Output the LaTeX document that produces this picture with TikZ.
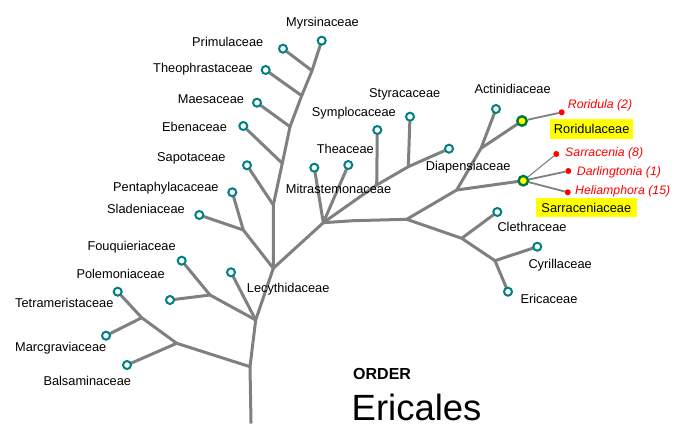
\documentclass[tikz,border=0pt]{standalone}
\usepackage{fontspec}
\setmainfont{Liberation Sans}
\usetikzlibrary{backgrounds}
\definecolor{brgray}{RGB}{128,128,128}
\definecolor{tealc}{RGB}{0,128,128}
\definecolor{greenc}{RGB}{0,120,60}
\definecolor{yelc}{RGB}{255,255,0}
\definecolor{redc}{RGB}{255,0,0}
\begin{document}
\begin{tikzpicture}[x=1pt,y=-1pt,
  br/.style={draw=brgray,line width=3pt,line cap=round,line join=round},
  thin/.style={draw=brgray,line width=1.8pt},
  thinner/.style={draw=brgray,line width=1.1pt},
  leaf/.style={circle,draw=tealc,fill=white,line width=2pt,minimum size=8pt,inner sep=0pt},
  fam/.style={circle,draw=greenc,fill=yelc,line width=2.4pt,minimum size=9.5pt,inner sep=0pt},
  gen/.style={circle,fill=redc,minimum size=6pt,inner sep=0pt},
  lab/.style={anchor=base west,inner sep=0pt,font=\fontsize{12.8}{15}\selectfont},
  glab/.style={anchor=base west,inner sep=0pt,text=redc,font=\fontsize{12.3}{15}\selectfont\itshape},
  ybox/.style={fill=yelc,inner sep=0pt,font=\fontsize{12.8}{15}\selectfont}
]
\useasboundingbox (0,0) rectangle (677,438);

% junctions
\coordinate (j1) at (312,70.7);
\coordinate (j2) at (301.7,95.7);
\coordinate (j3) at (290,126.7);
\coordinate (j4) at (282.3,163.3);
\coordinate (j5) at (273.3,205);
\coordinate (j6) at (243.3,230);
\coordinate (j7) at (273.3,268.3);
\coordinate (jM) at (323.3,222.7);
\coordinate (jS1) at (376.7,185);
\coordinate (jS2) at (408.3,166.7);
\coordinate (jH1) at (353.3,220.7);
\coordinate (jH2) at (406.7,219.3);
\coordinate (jA) at (456.7,190);
\coordinate (jA2) at (481,148.3);
\coordinate (jC) at (461.7,238.3);
\coordinate (jE) at (495,260.7);
\coordinate (j8) at (255.7,320);
\coordinate (jF) at (210,295);
\coordinate (j9) at (250,366.7);
\coordinate (jB) at (176.7,343.3);
\coordinate (jT) at (141.7,317.7);
\coordinate (root) at (251,422.7);

% leaves
\node[leaf] (myr) at (321.7,40.7) {};
\node[leaf] (pri) at (283,48.7) {};
\node[leaf] (the) at (265.7,70) {};
\node[leaf] (mae) at (257,102.7) {};
\node[leaf] (ebe) at (243.3,126) {};
\node[leaf] (sap) at (247,165.3) {};
\node[leaf] (pen) at (232.3,192.3) {};
\node[leaf] (sla) at (199.3,215) {};
\node[leaf] (mit) at (314.3,167.7) {};
\node[leaf] (tha) at (348.3,165) {};
\node[leaf] (sym) at (377.3,130) {};
\node[leaf] (sty) at (410,116.7) {};
\node[leaf] (dia) at (449,148.7) {};
\node[leaf] (act) at (496,109) {};
\node[leaf] (cle) at (497.3,212) {};
\node[leaf] (cyr) at (537.3,246.7) {};
\node[leaf] (eri) at (508,291.7) {};
\node[leaf] (lec) at (231,272.3) {};
\node[leaf] (fou) at (181.7,260.7) {};
\node[leaf] (pol) at (170,300) {};
\node[leaf] (tet) at (117.7,291.7) {};
\node[leaf] (mar) at (106,335.7) {};
\node[leaf] (bal) at (127,365) {};
\node[fam] (ror) at (522,121) {};
\node[fam] (sar) at (523.3,180.7) {};
\node[gen] (rd) at (561.7,112.3) {};
\node[gen] (sd) at (556.3,154) {};
\node[gen] (dd) at (568.3,171) {};
\node[gen] (hd) at (567.7,192.3) {};

\begin{pgfonlayer}{background}
\draw[br] (myr) -- (j1) -- (j2) -- (j3) -- (j4) -- (j5) -- (j7);
\draw[br] (pri) -- (j1);
\draw[br] (the) -- (j2);
\draw[br] (mae) -- (j3);
\draw[br] (ebe) -- (j4);
\draw[br] (sap) -- (j5);
\draw[br] (pen) -- (j6);
\draw[br] (sla) -- (j6);
\draw[br] (j6) -- (j7);
\draw[br] (j7) -- (jM);
\draw[br] (mit) -- (jM);
\draw[br] (tha) -- (jM);
\draw[br] (jM) -- (jS1) -- (jS2) -- (dia);
\draw[br] (sym) -- (jS1);
\draw[br] (sty) -- (jS2);
\draw[br] (jM) -- (jH1) -- (jH2);
\draw[br] (jH2) -- (jA) -- (jA2) -- (act);
\draw[br] (jA2) -- (ror);
\draw[br] (jA) -- (sar);
\draw[br] (jH2) -- (jC) -- (cle);
\draw[br] (jC) -- (jE) -- (cyr);
\draw[br] (jE) -- (eri);
\draw[br] (j7) -- (j8) -- (j9) -- (root);
\draw[br] (lec) -- (j8);
\draw[br] (jF) -- (j8);
\draw[br] (fou) -- (jF);
\draw[br] (pol) -- (jF);
\draw[br] (jB) -- (j9);
\draw[br] (bal) -- (jB);
\draw[br] (jT) -- (jB);
\draw[br] (tet) -- (jT);
\draw[br] (mar) -- (jT);
\draw[thin] (ror) -- (rd);
\draw[thinner] (sar) -- (sd);
\draw[thin] (sar) -- (dd);
\draw[thin] (sar) -- (hd);
\end{pgfonlayer}

% labels
\node[lab] (lmyr) at (286,26.5) {Myrsinaceae};
\node[lab] (lpri) at (192,46.2) {Primulaceae};
\node[lab] (lthe) at (153,72.2) {Theophrastaceae};
\node[lab] (lmae) at (177.7,103.8) {Maesaceae};
\node[lab] (lebe) at (162,131.8) {Ebenaceae};
\node[lab] (lsap) at (157,161.2) {Sapotaceae};
\node[lab] (lpen) at (113,191.8) {Pentaphylacaceae};
\node[lab] (lsla) at (107,213.8) {Sladeniaceae};
\node[lab] (lsym) at (311.7,116.2) {Symplocaceae};
\node[lab] (ltha) at (316.7,153.8) {Theaceae};
\node[lab] (lmit) at (285.7,193.8) {Mitrastemonaceae};
\node[lab] (lsty) at (369,97.8) {Styracaceae};
\node[lab] (ldia) at (425.7,170.5) {Diapensiaceae};
\node[lab] (lact) at (474.3,93.8) {Actinidiaceae};
\node[lab] (lcle) at (497.3,231.8) {Clethraceae};
\node[lab] (lcyr) at (528.3,268.8) {Cyrillaceae};
\node[lab] (leri) at (520.3,303.8) {Ericaceae};
\node[lab] (llec) at (246.7,292.2) {Lecythidaceae};
\node[lab] (lfou) at (87.3,250.2) {Fouquieriaceae};
\node[lab] (lpol) at (76.3,278.5) {Polemoniaceae};
\node[lab] (ltet) at (15,307.8) {Tetrameristaceae};
\node[lab] (lmar) at (15,351.8) {Marcgraviaceae};
\node[lab] (lbal) at (43.3,385.2) {Balsaminaceae};
\node[glab] (lrd) at (567.7,108.8) {Roridula (2)};
\node[glab] (lsd) at (565,156.8) {Sarracenia (8)};
\node[glab] (ldd) at (576.7,175.2) {Darlingtonia (1)};
\node[glab] (lhd) at (575,194.2) {Heliamphora (15)};
\node[ybox,minimum width=83.3pt,minimum height=19.7pt] (lror) at (591.7,128.8) {Roridulaceae};
\node[ybox,minimum width=100.7pt,minimum height=19pt] (lsar) at (586.3,207.8) {Sarraceniaceae};
\node[anchor=base west,inner sep=0pt,font=\fontsize{16}{18}\selectfont\bfseries] (order) at (353,379.3) {ORDER};
\node[anchor=base west,inner sep=0pt,font=\fontsize{36.5}{40}\selectfont] (title) at (351.5,420) {Ericales};
\end{tikzpicture}
\end{document}
